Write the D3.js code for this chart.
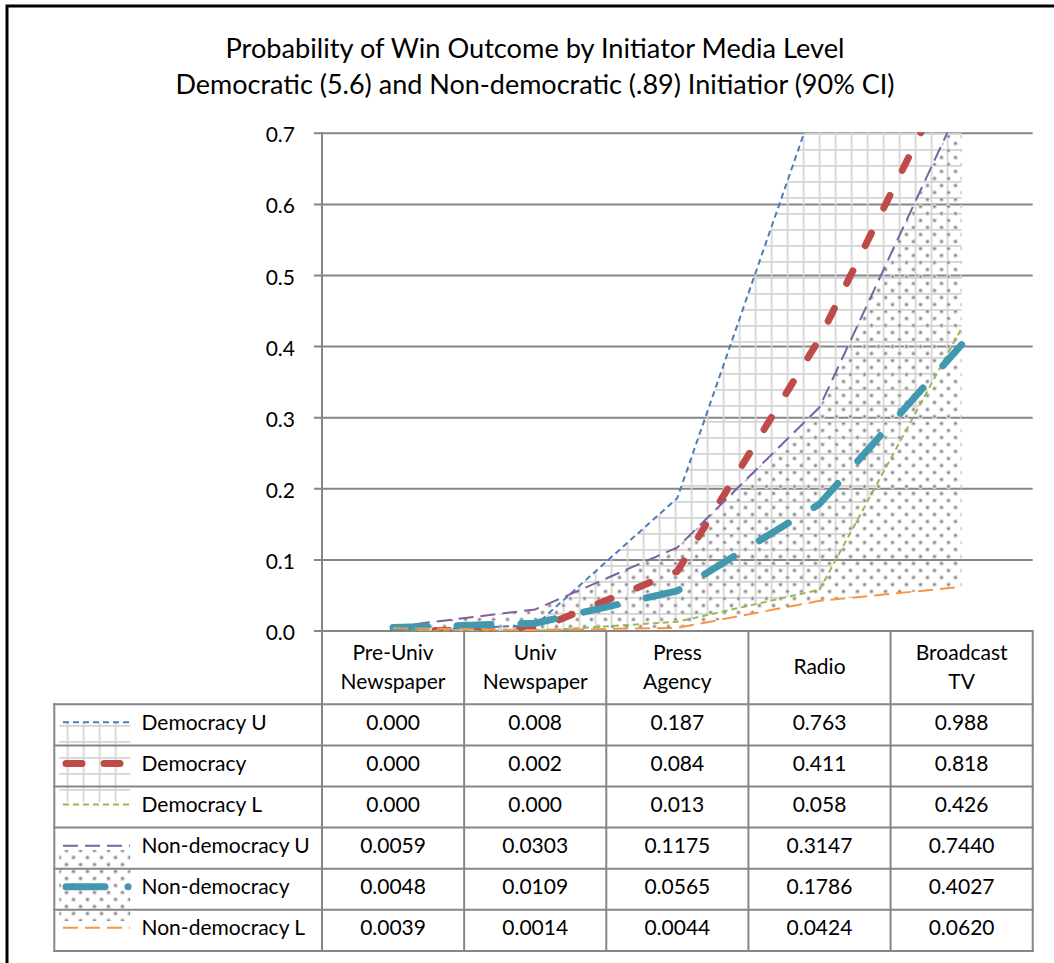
<!DOCTYPE html>
<html>
<head>
<meta charset="utf-8">
<script src="https://cdn.jsdelivr.net/npm/d3@7"></script>
<style>
  body { margin: 0; background: #fff; }
  svg { display: block; }
  text { font-family: Lato, "Open Sans", sans-serif; fill: #000; }
</style>
</head>
<body>
<svg id="chart" width="1054" height="963"></svg>
<script>
// ---- data ----
const titleLines = [
  "Probability of Win Outcome by Initiator Media Level",
  "Democratic (5.6) and Non-democratic (.89) Initiatior (90% CI)"
];
const categories = [
  ["Pre-Univ", "Newspaper"],
  ["Univ", "Newspaper"],
  ["Press", "Agency"],
  ["Radio"],
  ["Broadcast", "TV"]
];
const democracyU    = [0.000, 0.008, 0.187, 0.763, 0.988];
const democracy     = [0.000, 0.002, 0.084, 0.411, 0.818];
const democracyL    = [0.000, 0.000, 0.013, 0.058, 0.426];
const nonDemocracyU = [0.0059, 0.0303, 0.1175, 0.3147, 0.7440];
const nonDemocracy  = [0.0048, 0.0109, 0.0565, 0.1786, 0.4027];
const nonDemocracyL = [0.0039, 0.0014, 0.0044, 0.0424, 0.0620];
const yTicks = [0.0, 0.1, 0.2, 0.3, 0.4, 0.5, 0.6, 0.7];

// ---- series styling ----
const series = [
  { name: "Democracy U",     values: democracyU,    decimals: 3, color: "#4a7ebb", width: 2,   dash: "6 4",   cap: "butt" },
  { name: "Democracy",       values: democracy,     decimals: 3, color: "#be4b48", width: 7,   dash: "14 28", cap: "round" },
  { name: "Democracy L",     values: democracyL,    decimals: 3, color: "#98b954", width: 2,   dash: "6 4",   cap: "butt" },
  { name: "Non-democracy U", values: nonDemocracyU, decimals: 4, color: "#7d60a0", width: 2,   dash: "15 7",  cap: "butt" },
  { name: "Non-democracy",   values: nonDemocracy,  decimals: 4, color: "#4198af", width: 7,   dash: "34 30", cap: "round" },
  { name: "Non-democracy L", values: nonDemocracyL, decimals: 4, color: "#f79646", width: 2,   dash: "15 7",  cap: "butt" }
];

const svg = d3.select("#chart");
const gridColor = "#868686";

// ---- layout ----
const plot = { left: 322, right: 1032.7, top: 133.3, bottom: 631 };
const table = { left: 54.3, headerBottom: 704.3, rowH: 41.1 };

const x = d3.scaleBand().domain(d3.range(categories.length)).range([plot.left, plot.right]).padding(0);
const xc = i => x(i) + x.bandwidth() / 2;
const y = d3.scaleLinear().domain([0, 0.7]).range([plot.bottom, plot.top]);

// ---- patterns ----
const defs = svg.append("defs");
const grid = defs.append("pattern").attr("id", "gridFill")
  .attr("patternUnits", "userSpaceOnUse").attr("width", 16).attr("height", 16)
  .attr("x", 2.7).attr("y", 5);
grid.append("path").attr("d", "M0.8 0V16M0 0.8H16")
  .attr("stroke", "#d3d3d3").attr("stroke-width", 1.7).attr("fill", "none");

const dots = defs.append("pattern").attr("id", "dotFill")
  .attr("patternUnits", "userSpaceOnUse").attr("width", 14).attr("height", 14);
[[3.5, 3.5], [10.5, 10.5]].forEach(([cx, cy]) => {
  dots.append("circle").attr("cx", cx).attr("cy", cy).attr("r", 2.5).attr("fill", "#dcdcdc");
  dots.append("circle").attr("cx", cx).attr("cy", cy).attr("r", 1.2).attr("fill", "#858585");
});

defs.append("clipPath").attr("id", "plotClip").append("rect")
  .attr("x", plot.left).attr("y", plot.top - 1)
  .attr("width", plot.right - plot.left).attr("height", plot.bottom - plot.top + 1);

// ---- outer frame ----
svg.append("rect").attr("x", 7).attr("y", 6).attr("width", 1100).attr("height", 1100)
  .attr("fill", "#fff").attr("stroke", "#000").attr("stroke-width", 3);

// ---- title ----
const titleWidths = [619, 719];
svg.append("g").selectAll("text").data(titleLines).join("text")
  .attr("x", 535).attr("y", (d, i) => 58 + i * 36)
  .attr("text-anchor", "middle").attr("font-size", 26)
  .attr("textLength", (d, i) => titleWidths[i]).attr("lengthAdjust", "spacingAndGlyphs")
  .text(d => d);

// ---- gridlines & y axis ----
svg.append("g").selectAll("line").data(yTicks).join("line")
  .attr("x1", plot.left - 8).attr("x2", plot.right)
  .attr("y1", d => y(d)).attr("y2", d => y(d))
  .attr("stroke", gridColor).attr("stroke-width", 2);

svg.append("g").selectAll("text").data(yTicks).join("text")
  .attr("x", 295).attr("y", d => y(d) + 9)
  .attr("text-anchor", "end").attr("font-size", 21)
  .text(d => d3.format(".1f")(d));

// ---- confidence bands ----
const band = (lo, hi) => d3.area()
  .x(i => xc(i)).y0(i => y(lo[i])).y1(i => y(hi[i]))(d3.range(categories.length));

const plotG = svg.append("g").attr("clip-path", "url(#plotClip)");
plotG.append("path").attr("d", band(democracyL, democracyU)).attr("fill", "url(#gridFill)");
plotG.append("path").attr("d", band(nonDemocracyL, nonDemocracyU)).attr("fill", "url(#dotFill)");

// ---- series lines ----
const line = d3.line().x((d, i) => xc(i)).y(d => y(d));
series.forEach(s => {
  plotG.append("path").attr("d", line(s.values))
    .attr("fill", "none").attr("stroke", s.color).attr("stroke-width", s.width)
    .attr("stroke-dasharray", s.dash).attr("stroke-linecap", s.cap)
    .attr("stroke-linejoin", "round");
});

// ---- data table ----
const tableG = svg.append("g");
const rowTop = i => table.headerBottom + i * table.rowH;
const tableBottom = rowTop(series.length);

// legend key patterns
tableG.append("rect").attr("x", 59.3).attr("y", 723).attr("width", 71).attr("height", 79)
  .attr("fill", "url(#gridFill)");
tableG.append("rect").attr("x", 59.3).attr("y", 850).attr("width", 71).attr("height", 71)
  .attr("fill", "url(#dotFill)");

// header text
categories.forEach((lines, i) => {
  const y0 = lines.length === 1 ? 674 : 660;
  tableG.append("text").attr("x", xc(i)).attr("y", y0)
    .attr("text-anchor", "middle").attr("font-size", 21)
    .selectAll("tspan").data(lines).join("tspan")
    .attr("x", xc(i)).attr("dy", (d, j) => j === 0 ? 0 : 29).text(d => d);
});

// rows
series.forEach((s, r) => {
  const top = rowTop(r);
  const cy = top + table.rowH / 2 - 2.5;
  // legend key
  const ln = tableG.append("line").attr("y1", cy).attr("y2", cy)
    .attr("stroke", s.color).attr("stroke-width", s.width)
    .attr("stroke-linecap", s.cap);
  if (s.name === "Non-democracy") {
    ln.attr("x1", 66).attr("x2", 132).attr("stroke-dasharray", "39 23 0.1 60");
  } else if (s.name === "Democracy") {
    ln.attr("x1", 66).attr("x2", 126).attr("stroke-dasharray", "16 22");
  } else {
    ln.attr("x1", 63).attr("x2", 130).attr("stroke-dasharray", s.dash);
  }
  tableG.append("text").attr("x", 141.5).attr("y", top + 25.5)
    .attr("font-size", 21).text(s.name);
  s.values.forEach((v, i) => {
    tableG.append("text").attr("x", xc(i)).attr("y", top + 25.5)
      .attr("text-anchor", "middle").attr("font-size", 21)
      .text(d3.format("." + s.decimals + "f")(v));
  });
});

// table rules
const rules = [];
rules.push([plot.left, plot.top, plot.left, tableBottom]);          // y axis + first column edge
for (let i = 1; i <= categories.length; i++) {
  const xx = i === categories.length ? plot.right : x(i);
  rules.push([xx, plot.bottom, xx, tableBottom]);
}
for (let r = 0; r <= series.length; r++) {
  rules.push([table.left, rowTop(r), plot.right, rowTop(r)]);
}
rules.push([table.left, rowTop(0), table.left, tableBottom]);
tableG.selectAll("line.rule").data(rules).join("line").attr("class", "rule")
  .attr("x1", d => d[0]).attr("y1", d => d[1]).attr("x2", d => d[2]).attr("y2", d => d[3])
  .attr("stroke", gridColor).attr("stroke-width", 2).attr("stroke-linecap", "square");
</script>
</body>
</html>
